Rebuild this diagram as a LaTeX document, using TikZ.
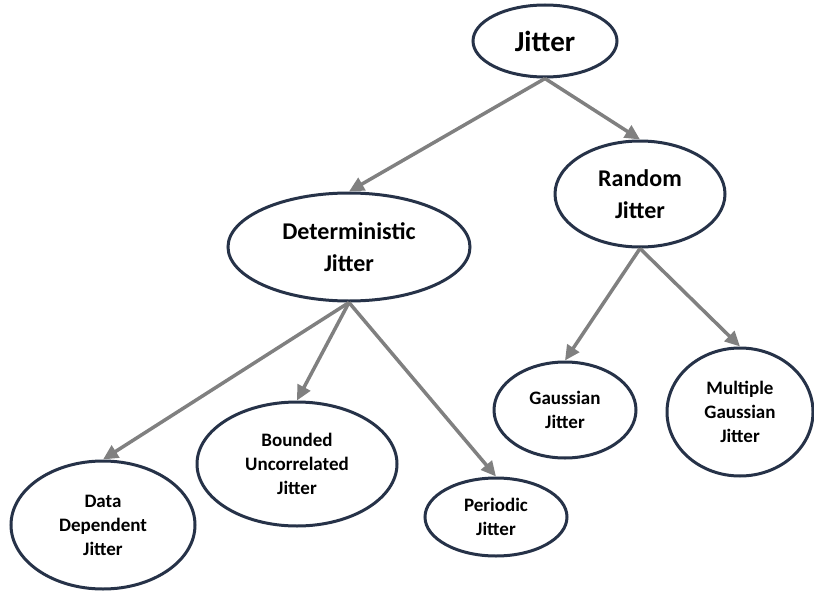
\documentclass[tikz,border=0pt]{standalone}
\usepackage{fontspec}
\setmainfont{Carlito}
\usetikzlibrary{shapes.geometric,arrows.meta}
\definecolor{ringblue}{RGB}{38,50,72}
\definecolor{linkgray}{RGB}{128,128,128}
\tikzset{
bubble/.style={
  ellipse,
  draw=ringblue,
  line width=3pt,
  fill=white,
  inner sep=0pt,
  align=center
},
rootnode/.style={bubble,font=\fontsize{29}{33}\selectfont\bfseries},
branchnode/.style={bubble,font=\fontsize{24}{32}\selectfont\bfseries},
leafnode/.style={bubble,font=\fontsize{19}{24}\selectfont\bfseries},
link/.style={draw=linkgray,line width=3.5pt,-{Triangle[length=15pt,width=14pt]}}
}

\begin{document}
\begin{tikzpicture}[x=1pt,y=-1pt]
\useasboundingbox (0,0) rectangle (814,594);
% the tree nodes
\node[rootnode,minimum width=144pt,minimum height=72pt] (jitter) at (545,41) {Jitter};
\node[branchnode,minimum width=242pt,minimum height=108pt] (det) at (349,247) {Deterministic\\Jitter};
\node[branchnode,minimum width=170pt,minimum height=106pt] (rand) at (640,194) {Random\\Jitter};
\node[leafnode,minimum width=184pt,minimum height=128pt] (datadep) at (103,525) {Data\\Dependent\\Jitter};
\node[leafnode,minimum width=200pt,minimum height=124pt] (bounded) at (297,464) {Bounded\\Uncorrelated\\Jitter};
\node[leafnode,minimum width=142pt,minimum height=78pt] (periodic) at (496,517) {Periodic\\Jitter};
\node[leafnode,minimum width=142pt,minimum height=96pt] (gauss) at (565,410) {Gaussian\\Jitter};
\node[leafnode,minimum width=146pt,minimum height=128pt] (multi) at (740,412) {Multiple\\Gaussian\\Jitter};
% the arrows
\foreach \a/\b in {jitter/det,jitter/rand,det/datadep,det/bounded,det/periodic,rand/gauss,rand/multi}
{
  \draw[link] (\a.south) -- (\b.north);
}
\end{tikzpicture}
\end{document}
